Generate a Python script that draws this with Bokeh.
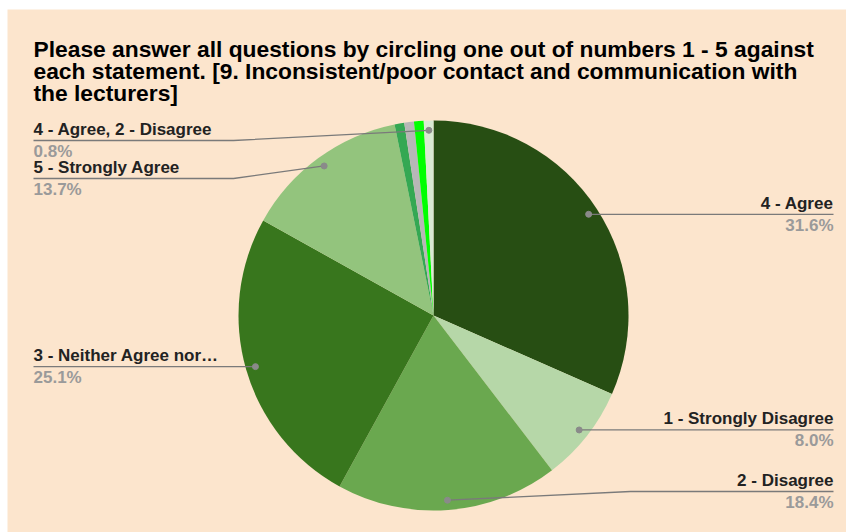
import numpy as np
from bokeh.plotting import figure
from bokeh.models import Range1d, ColumnDataSource
from bokeh.core.properties import value
from bokeh.embed import file_html
from bokeh.resources import INLINE

# ---- data ----
title_lines = [
    "Please answer all questions by circling one out of numbers 1 - 5 against",
    "each statement. [9. Inconsistent/poor contact and communication with",
    "the lecturers]",
]
categories = [
    "4 - Agree",
    "1 - Strongly Disagree",
    "2 - Disagree",
    "3 - Neither Agree nor\u2026",
    "5 - Strongly Agree",
    "Other A",
    "Other B",
    "Other C",
    "4 - Agree, 2 - Disagree",
]
percentages = [31.6, 8.0, 18.4, 25.1, 13.7, 0.8, 0.8, 0.8, 0.8]
colors = ["#274e13", "#b6d7a8", "#6aa84f", "#38761d", "#93c47d",
          "#34a853", "#b7b7b7", "#00ff00", "#d9ead3"]

# ---- layout (screen pixels) ----
W, H = 846, 532
FL, FT = 7, 9          # white margin left / top
FW, FH = W - FL, H - FT
BG = "#fce5cd"
FONT = "Liberation Sans"
TS = 6                 # text baseline correction


def dx(sx):
    return sx - FL


def dy(sy):
    return H - sy


CX, CY, R = 433, 315, 195
# labelled slice index -> (side, underline y or None, elbow x or None)
label_layout = {
    0: ("right", None, None),
    1: ("right", None, None),
    2: ("right", 491, 630),
    3: ("left", None, None),
    4: ("left", 178, 233),
    8: ("left", 140, 233),
}
LEFT_X, RIGHT_X = 33, 833

p = figure(width=W, height=H, output_backend="svg", toolbar_location=None,
           x_range=Range1d(0, FW), y_range=Range1d(0, FH),
           x_axis_location=None, y_axis_location=None,
           min_border_left=FL, min_border_top=FT,
           min_border_right=0, min_border_bottom=0,
           background_fill_color=BG, border_fill_color="white")
p.grid.visible = False
p.outline_line_color = None

vals = np.array(percentages, dtype=float)
frac = vals / vals.sum()
cum = np.concatenate([[0.0], np.cumsum(frac)])
start = np.pi / 2 - 2 * np.pi * cum[:-1]
end = np.pi / 2 - 2 * np.pi * cum[1:]

src = ColumnDataSource(dict(x=[dx(CX)] * len(vals), y=[dy(CY)] * len(vals),
                            start=start, end=end, color=colors))
p.wedge(x="x", y="y", radius=R, start_angle="start", end_angle="end",
        direction="clock", fill_color="color", line_color=None, source=src)

# labels
mid = (cum[:-1] + cum[1:]) / 2 * 2 * np.pi  # clockwise from top
for i, (side, uy, ex) in label_layout.items():
    px = CX + 0.95 * R * np.sin(mid[i])
    py = CY - 0.95 * R * np.cos(mid[i])
    ly = py if uy is None else uy
    xs = [px]
    ys = [py]
    if ex is not None:
        xs.append(ex)
        ys.append(ly)
    xs.append(RIGHT_X if side == "right" else LEFT_X)
    ys.append(ly)
    p.line([dx(v) for v in xs], [dy(v) for v in ys], line_color="#7a7a7a",
           line_width=1.3)
    p.scatter([dx(px)], [dy(py)], size=6, fill_color="#8a8a8a",
              line_color="#8a8a8a")
    tx = RIGHT_X if side == "right" else LEFT_X
    align = "right" if side == "right" else "left"
    p.text([dx(tx)], [dy(ly - 5 - TS)], text=[categories[i]], text_align=align,
           text_baseline="alphabetic", text_font=value(FONT),
           text_font_style="bold", text_font_size="17px", text_color="#222222")
    p.text([dx(tx)], [dy(ly + 17 - TS)], text=[f"{percentages[i]:.1f}%"],
           text_align=align, text_baseline="alphabetic",
           text_font=value(FONT), text_font_style="bold",
           text_font_size="17px", text_color="#9a9a9a")

# title
for k, line in enumerate(title_lines):
    p.text([dx(33)], [dy(54 - TS + 22 * k)], text=[line], text_align="left",
           text_baseline="alphabetic", text_font=value(FONT),
           text_font_style="bold", text_font_size="22.8px", text_color="#000000")

open("out.html", "w").write(file_html(p, INLINE))
